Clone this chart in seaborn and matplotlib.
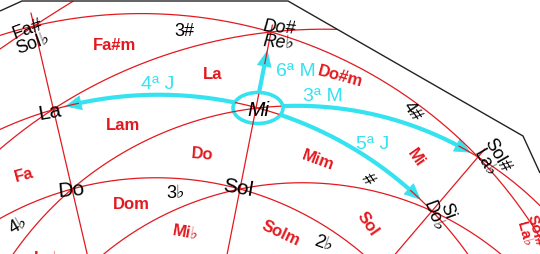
import numpy as np
import pandas as pd
import matplotlib
matplotlib.use("Agg")
import matplotlib.pyplot as plt
import seaborn as sns
from matplotlib.patches import Polygon, Ellipse

sns.set_theme(style="white")
plt.rcParams['font.family'] = ['Liberation Sans', 'DejaVu Sans']

# ---------------- data (texts) ----------------
node_names = ["Fa#\nSol♭", "Do#\nRe♭", "La", "Mi", "Sol#\nLa♭", "Do", "Sol", "Si\nDo♭"]
chord_labels = ["Fa#m", "La", "Do#m", "Lam", "Do", "Mim", "Mi", "Fa", "Dom",
                "Mi♭", "Solm", "Sol", "La♭", "Sol#\nLa♭"]
key_signatures = ["3#", "4#", "#", "3♭", "4♭", "2♭"]
interval_labels = ["4ª J", "6ª M", "3ª M", "5ª J"]

# ---------------- layout (pixel space) ----------------
RED = "#E3191F"
CYAN = "#35E2F0"
NODE = {"Fa#": (34, 27), "Do#": (271, 33), "La": (52, 111), "Mi": (258, 109),
        "Sol#": (478, 158), "Do": (72, 190), "Sol": (240, 190), "Si": (432, 212)}

node_pos = [(30, 37, 20, 'normal', 13), (279, 35, -5, 'italic', 13), (50, 113, 10, 'normal', 15),
            (258, 111, 0, 'italic', 15), (491, 159, -60, 'normal', 13), (71, 190, 5, 'normal', 15),
            (238, 188, -10, 'normal', 15), (440, 214, -70, 'normal', 13)]
chord_pos = [(115, 45, 0), (213, 75, 0), (340, 77, -15), (123, 126, 0), (202, 154, -5),
             (318, 160, -20), (416, 158, -55), (24, 175, 15), (131, 205, 0),
             (186, 232, -10), (281, 233, -25), (368, 224, -55), (48, 258, 0),
             (530, 232, -75)]
key_pos = [(184, 32, 0), (412, 112, -55), (367, 180, -55), (176, 194, 0),
           (18, 225, 30), (323, 244, -20)]
interval_pos = [(158, 85), (296, 72), (323, 97), (373, 145)]

frame = [(0, 12), (22, 2), (288, 2), (523, 137), (540, 172), (545, 172),
         (545, 260), (-5, 260), (-5, 12)]


def circle3(p1, p2, p3):
    ax_, ay = p1; bx, by = p2; cx, cy = p3
    d = 2 * (ax_ * (by - cy) + bx * (cy - ay) + cx * (ay - by))
    ux = ((ax_**2 + ay**2) * (by - cy) + (bx**2 + by**2) * (cy - ay) + (cx**2 + cy**2) * (ay - by)) / d
    uy = ((ax_**2 + ay**2) * (cx - bx) + (bx**2 + by**2) * (ax_ - cx) + (cx**2 + cy**2) * (bx - ax_)) / d
    return (ux, uy), np.hypot(ax_ - ux, ay - uy)


def on_circle(circ, x):
    (cx, cy), r = circ
    return (x, cy - np.sqrt(max(r**2 - (x - cx)**2, 0)))


def arc(circ, p0, p1, n=400):
    (cx, cy), r = circ
    a0 = np.arctan2(p0[1] - cy, p0[0] - cx)
    a1 = np.arctan2(p1[1] - cy, p1[0] - cx)
    t = np.linspace(a0, a1, n)
    return cx + r * np.cos(t), cy + r * np.sin(t)


def line(pa, pb, y0, y1, n=50):
    y = np.linspace(y0, y1, n)
    s = (pb[0] - pa[0]) / (pb[1] - pa[1])
    return pa[0] + s * (y - pa[1]), y


N = NODE
F1 = circle3(N["Fa#"], N["Do#"], N["Sol#"])
F2 = circle3(N["La"], N["Mi"], N["Si"])
F3 = circle3(N["Do"], N["Sol"], (357, 250))
M1 = circle3((0, 50), N["Fa#"], (90, -8))
M2 = circle3((0, 150), N["La"], N["Do#"])
M3 = circle3(N["Do"], N["Mi"], N["Sol#"])
M4 = circle3((110, 250), N["Sol"], N["Si"])

segs = [
    arc(F1, (-10, 40), (560, 280)),
    arc(F2, (-10, 130), (480, 280)),
    arc(F3, (-10, 222), (380, 280)),
    arc(M1, (-10, 55), (90, -8)),
    arc(M2, (-10, 158), (345, 20)),
    arc(M3, (5, 270), (560, 230)),
    arc(M4, (90, 275), (540, 280)),
    line(N["Fa#"], N["Do"], 14, 258),
    line(N["Do#"], N["Sol"], 26, 258),
    line(N["Sol#"], N["Si"], 150, 258),
]
red_df = pd.concat([pd.DataFrame({"x": s[0], "y": s[1], "seg": i}) for i, s in enumerate(segs)])

fig = plt.figure(figsize=(5.4, 2.55), dpi=100)
ax = fig.add_axes([0, 0, 1, 1])
ax.set_xlim(0, 540)
ax.set_ylim(255, 0)
ax.axis('off')

clip = Polygon(frame, closed=True, transform=ax.transData, facecolor='none', edgecolor='none')
ax.add_patch(clip)

n0 = len(ax.lines)
sns.lineplot(data=red_df, x="x", y="y", units="seg", estimator=None, sort=False,
             color=RED, linewidth=0.9, legend=False, ax=ax)
for ln in ax.lines[n0:]:
    ln.set_clip_path(clip)

# black frame border
bx = [0, 22, 288, 523, 540]
by = [12, 2, 2, 137, 174]
ax.plot(bx, by, color="#222222", lw=1.0, solid_capstyle='butt')

# ---------------- cyan arrows ----------------
def arrow_path(xs, ys, head_len=15, head_w=7):
    xs = np.asarray(xs); ys = np.asarray(ys)
    d = np.concatenate([[0], np.cumsum(np.hypot(np.diff(xs), np.diff(ys)))])
    keep = d <= d[-1] - head_len
    bxs, bys = xs[keep], ys[keep]
    tip = np.array([xs[-1], ys[-1]])
    base = np.array([bxs[-1], bys[-1]])
    v = (tip - base) / np.linalg.norm(tip - base)
    p = np.array([-v[1], v[0]])
    tri = [tip, base + p * head_w, base - p * head_w]
    return bxs, bys, tri

arrows = [
    arc(F2, on_circle(F2, 233), on_circle(F2, 66)),
    line(N["Do#"], N["Sol"], 93, 52),
    arc(M3, on_circle(M3, 283), on_circle(M3, 470)),
    arc(F2, on_circle(F2, 281), on_circle(F2, 420)),
]
bodies, heads = [], []
for i, (xs, ys) in enumerate(arrows):
    bxs, bys, tri = arrow_path(xs, ys)
    bodies.append(pd.DataFrame({"x": bxs, "y": bys, "arr": i}))
    heads.append(tri)
cyan_df = pd.concat(bodies)
sns.lineplot(data=cyan_df, x="x", y="y", units="arr", estimator=None, sort=False,
             color=CYAN, linewidth=3.0, legend=False, ax=ax)
for tri in heads:
    ax.add_patch(Polygon(tri, closed=True, facecolor=CYAN, edgecolor=CYAN, lw=0.5))
ax.add_patch(Ellipse(N["Mi"], 50, 31, facecolor='none', edgecolor=CYAN, lw=2.6))

# ---------------- texts ----------------
for t, (x, y, r, st, fs) in zip(node_names, node_pos):
    ax.text(x, y, t, fontsize=fs, color="black", ha="center", va="center", style=st,
            rotation=r, rotation_mode="anchor", linespacing=0.85, multialignment="center")
for t, (x, y, r) in zip(chord_labels, chord_pos):
    fs = 12 if "\n" not in t else 11
    ax.text(x, y, t, fontsize=fs, color=RED, fontweight="bold", ha="center", va="center",
            rotation=r, rotation_mode="anchor", linespacing=0.85, multialignment="center")
for t, (x, y, r) in zip(key_signatures, key_pos):
    ax.text(x, y, t, fontsize=13, color="black", ha="center", va="center",
            rotation=r, rotation_mode="anchor")
for t, (x, y) in zip(interval_labels, interval_pos):
    ax.text(x, y, t, fontsize=14, color=CYAN, ha="center", va="center")

fig.savefig("out.png", dpi=100)
